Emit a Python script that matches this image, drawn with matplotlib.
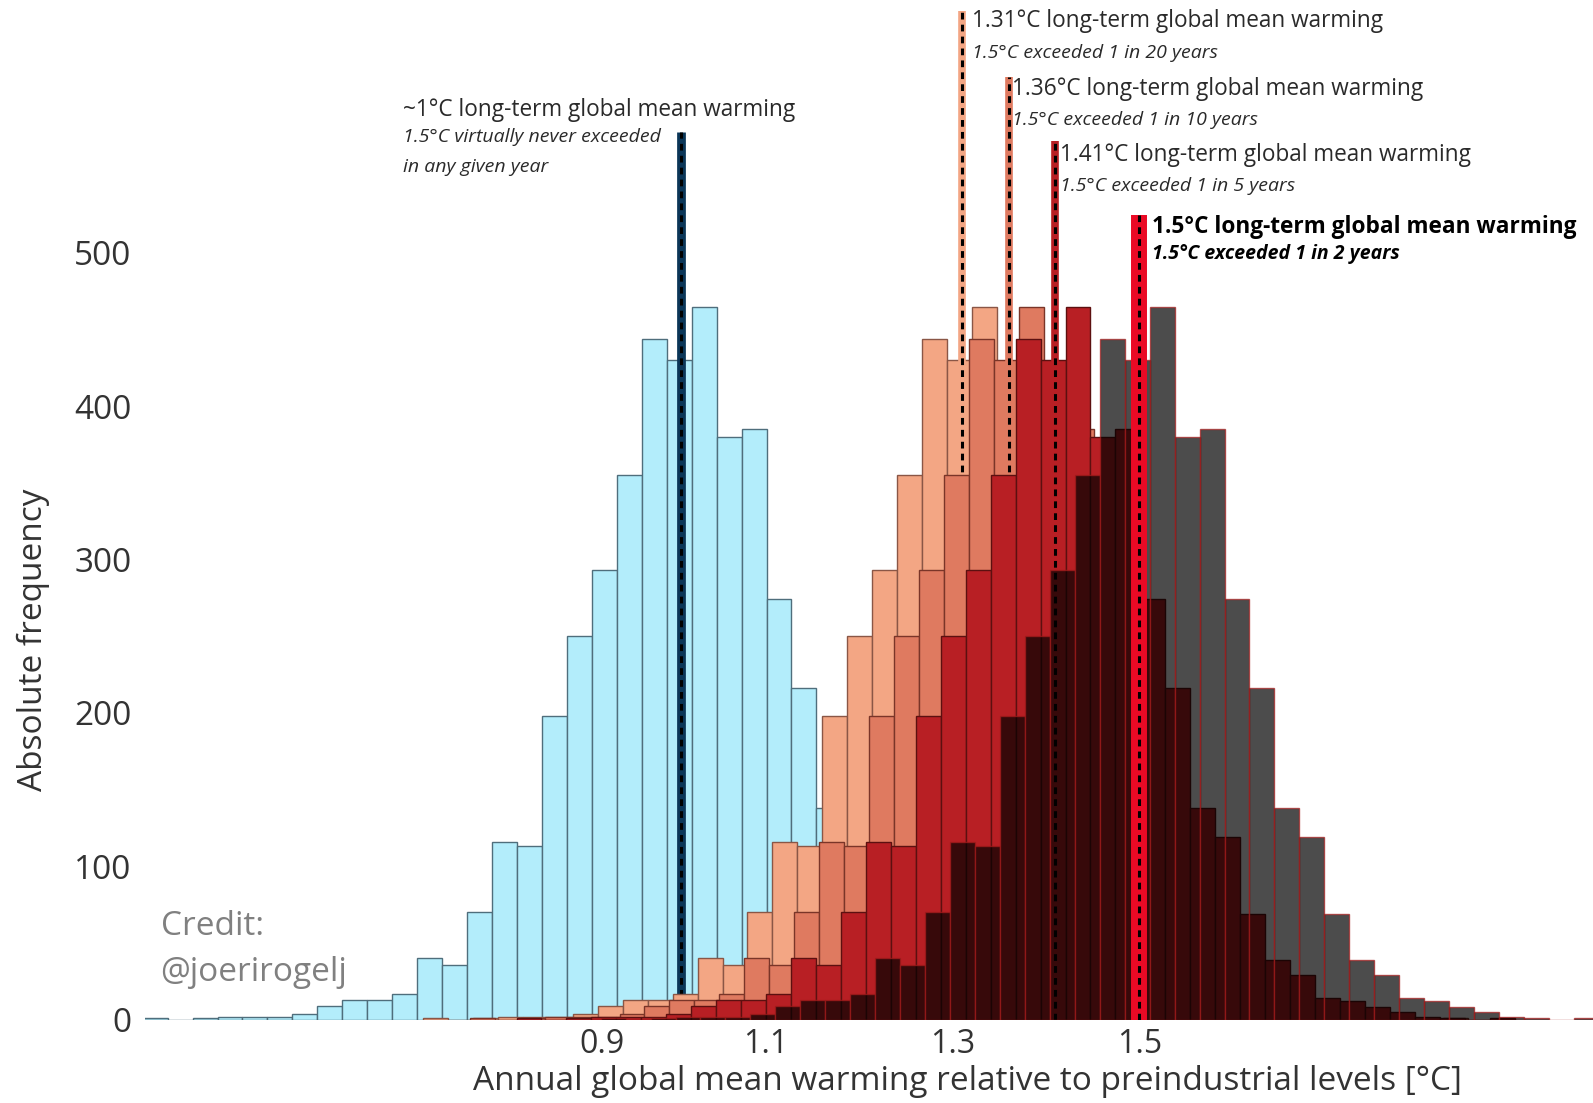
import matplotlib
matplotlib.use("Agg")
import matplotlib.pyplot as plt
from matplotlib.transforms import ScaledTranslation

plt.rcParams['font.family'] = ['Open Sans', 'DejaVu Sans']

# ---------------- data ----------------
# histogram counts (same shape for every warming level, shifted)
counts = [1, 0, 1, 2, 2, 2, 4, 9, 13, 13, 17, 40, 36, 70, 116, 113, 198, 250,
          293, 355, 444, 430, 465, 380, 385, 274, 216, 138, 119, 69, 39, 29,
          14, 12, 8, 5, 2, 1, 0, 1]
peak_bin = 22            # index of the tallest bin
bin_width = 0.0267       # degC
peak_left_offset = 0.011 # left edge of tallest bin relative to mean

means = [1.01, 1.31, 1.36, 1.41, 1.50]
line_tops = [579, 658, 615, 573, 525]
titles = ["~1°C long-term global mean warming",
          "1.31°C long-term global mean warming",
          "1.36°C long-term global mean warming",
          "1.41°C long-term global mean warming",
          "1.5°C long-term global mean warming"]
subtitles = [["1.5°C virtually never exceeded", "in any given year"],
             ["1.5°C exceeded 1 in 20 years"],
             ["1.5°C exceeded 1 in 10 years"],
             ["1.5°C exceeded 1 in 5 years"],
             ["1.5°C exceeded 1 in 2 years"]]
yticks = [0, 100, 200, 300, 400, 500]
xticks = [0.9, 1.1, 1.3, 1.5]
xlabel = "Annual global mean warming relative to preindustrial levels [°C]"
ylabel = "Absolute frequency"

# ---------------- styles / layout ----------------
fills = ['#b3edfb', '#f3a684', '#df7a60', '#b81f24', 'black']
edges = ['#4f6e7c', '#8a5646', '#7a3528', '#5c1010', '#a51c1c']
alphas = [1, 1, 1, 1, 0.7]
line_cols = ['#0b3658', '#f3a684', '#df7a60', '#b81f24', '#ea0a25']
line_w = [6.3, 5.5, 5.5, 5.5, 11.5]
text_x = [0.7125, 1.3212, 1.3636, 1.4147, 1.5136]
title_y = [593, 651, 606.6, 564, 516.6]
sub_y = [[575.5, 556], [630.5], [586.8], [543.7], [499]]

W, H = 1593, 1103
fig = plt.figure(figsize=(W / 100, H / 100), dpi=100)
ax = fig.add_axes([143 / 1568, 1 - 1004 / 1086, 1 - 143 / 1568, 1004 / 1086])

x0 = 1.5 - (1121.5 - 143) / 920
x1 = 1.5 + (1568 - 1121.5) / 920
ax.set_xlim(x0, x1)
ax.set_ylim(0, 1004 / 1.51)

for i, m in enumerate(means):
    start = m + peak_left_offset - peak_bin * bin_width
    lefts = [start + k * bin_width for k in range(len(counts))]
    ax.bar(lefts, counts, width=bin_width, align='edge', color=fills[i],
           alpha=alphas[i], edgecolor=edges[i], linewidth=1.0, zorder=2 + 2 * i)
    if i < 4:
        ax.plot([m, m], [0, line_tops[i]], color=line_cols[i], lw=line_w[i],
                solid_capstyle='butt', zorder=3 + 2 * i)
        ax.plot([m, m], [0, line_tops[i]], color='black', lw=2.2,
                linestyle=(0, (2.2, 1.7)), zorder=3.5 + 2 * i)
# top red line on everything
ax.plot([means[4], means[4]], [0, line_tops[4]], color=line_cols[4], lw=line_w[4],
        solid_capstyle='butt', zorder=20)
ax.plot([means[4], means[4]], [0, line_tops[4]], color='black', lw=2.2,
        linestyle=(0, (2.2, 1.7)), zorder=21)

# annotations
for i in range(5):
    bold = (i == 4)
    ax.text(text_x[i], title_y[i], titles[i], fontsize=16.3,
            fontweight='bold' if bold else 'normal',
            color='black' if bold else '#2a2a2a', ha='left', va='center', zorder=30)
    for s, yy in zip(subtitles[i], sub_y[i]):
        ax.text(text_x[i], yy, s, fontsize=14, style='italic',
                fontweight='bold' if bold else 'normal',
                color='black' if bold else '#2a2a2a', ha='left', va='center', zorder=30)

for sp in ax.spines.values():
    sp.set_visible(False)
ax.set_yticks(yticks)
ax.set_xticks(xticks)
ax.set_xticklabels([f"{v:.1f}" for v in xticks])
ax.tick_params(axis='y', length=0, pad=10, labelsize=24, labelcolor='#333333')
ax.tick_params(axis='x', length=0, pad=6, labelsize=23, labelcolor='#333333')
# the first x tick label sits a little to the right in the original graphic
lab = ax.xaxis.get_major_ticks()[0].label1
lab.set_transform(lab.get_transform() + ScaledTranslation(0.23, 0, fig.dpi_scale_trans))

fig.text(33 / 1568, 1 - 630 / 1086, ylabel, rotation=90, ha='center', va='center',
         fontsize=24, color='#333333')
fig.text(952 / 1568, 1 - 1065 / 1086, xlabel, ha='center', va='center',
         fontsize=24, color='#333333')
fig.text(158 / 1568, 1 - 912 / 1086, "Credit:", ha='left', va='center',
         fontsize=24, color='#808080')
fig.text(158 / 1568, 1 - 958 / 1086, "@joerirogelj", ha='left', va='center',
         fontsize=24, color='#808080')

fig.savefig("out.png", dpi=100)
